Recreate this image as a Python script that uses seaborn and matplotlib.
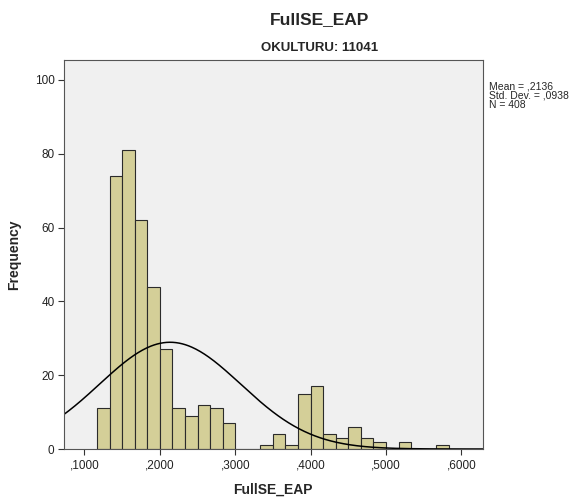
import numpy as np
import pandas as pd
import matplotlib
matplotlib.use("Agg")
import matplotlib.pyplot as plt
import seaborn as sns

# ---- data ----
bin_start = 0.1 + 1/60          # first non-empty bin edge
bin_width = 1/60
counts = [11, 74, 81, 62, 44, 27, 11, 9, 12, 11, 7,
          0, 0, 1, 4, 1, 15, 17, 4, 3, 6, 3, 2, 0, 2, 0, 0, 1]
mean_val = 0.2136
sd_val = 0.0938
n_val = 408
x_ticks = [0.1, 0.2, 0.3, 0.4, 0.5, 0.6]
x_ticklabels = [",1000", ",2000", ",3000", ",4000", ",5000", ",6000"]
y_ticks = [0, 20, 40, 60, 80, 100]

sns.set_theme(style="white")
plt.rcParams['font.family'] = ['Liberation Sans', 'DejaVu Sans']

nb = len(counts)
edges = bin_start + bin_width * np.arange(nb + 1)
centers = (edges[:-1] + edges[1:]) / 2
df = pd.DataFrame({"x": centers, "w": counts})

fig = plt.figure(figsize=(5.76, 4.98), dpi=100)
ax = fig.add_axes([63.5/576, 1-449/498, (483-63.5)/576, (449-60)/498])
ax.set_facecolor("#F0F0F0")

sns.histplot(data=df, x="x", weights="w", bins=list(edges), ax=ax,
             color="#D4CF98", edgecolor="#2b2b2b", linewidth=0.8, alpha=1.0)

xlim = (0.0722, 0.6287)
xs = np.linspace(xlim[0], xlim[1], 400)
pdf = n_val * bin_width / (sd_val * np.sqrt(2*np.pi)) * np.exp(-0.5*((xs-mean_val)/sd_val)**2)
ax.plot(xs, pdf, color="black", lw=1.1)

ax.set_xlim(*xlim)
ax.set_ylim(0, 105.4)
ax.set_xticks(x_ticks)
ax.set_xticklabels(x_ticklabels)
ax.set_yticks(y_ticks)
ax.tick_params(axis='both', labelsize=8.5, length=4.5, width=0.8, color="#333333",
               direction='out', pad=2, labelcolor="#222222",
               bottom=True, left=True)
ax.tick_params(axis='x', pad=3)
for s in ax.spines.values():
    s.set_color("#555555")
    s.set_linewidth(0.8)
ax.set_xlabel("FullSE_EAP", fontsize=10, fontweight='bold', labelpad=8)
ax.set_ylabel("Frequency", fontsize=10, fontweight='bold', labelpad=10)

fig.text(320/576, 1-20/498, "FullSE_EAP", ha='center', va='center',
         fontsize=12.5, fontweight='bold')
fig.text(320/576, 1-48/498, "OKULTURU: 11041", ha='center', va='center',
         fontsize=9.5, fontweight='bold')
fig.text(489/576, 1-86/498, "Mean = ,2136", ha='left', va='center', fontsize=7.5)
fig.text(489/576, 1-95.5/498, "Std. Dev. = ,0938", ha='left', va='center', fontsize=7.5)
fig.text(489/576, 1-105/498, "N = 408", ha='left', va='center', fontsize=7.5)

fig.savefig("out.png", dpi=100, facecolor="white")
